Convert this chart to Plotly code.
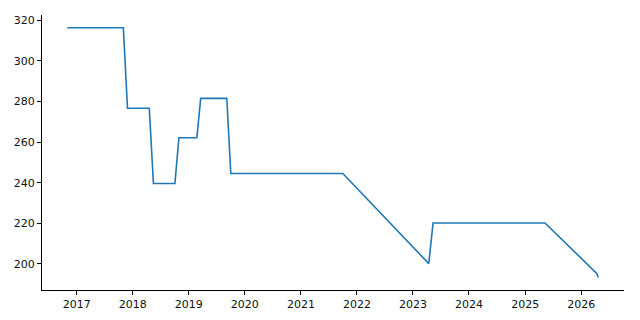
import plotly.graph_objects as go

dates = [
    "2016-11-01", "2017-11-01", "2017-11-28",
    "2018-04-19", "2018-05-16",
    "2018-10-03", "2018-10-29",
    "2019-02-23", "2019-03-20",
    "2019-09-06", "2019-10-02",
    "2021-10-01", "2023-04-14",
    "2023-05-12", "2025-05-10",
    "2026-04-12", "2026-04-22",
]
values = [
    316.2, 316.2, 276.6,
    276.6, 239.6,
    239.6, 262.1,
    262.1, 281.5,
    281.5, 244.5,
    244.5, 200.2,
    220.2, 220.2,
    195.4, 193.4,
]
y_ticks = [200, 220, 240, 260, 280, 300, 320]
x_ticks = ["2017-01-01", "2018-01-01", "2019-01-01", "2020-01-01", "2021-01-01",
           "2022-01-01", "2023-01-01", "2024-01-01", "2025-01-01", "2026-01-01"]
x_tick_labels = ["2017", "2018", "2019", "2020", "2021", "2022", "2023", "2024", "2025", "2026"]

fig = go.Figure()
fig.add_trace(go.Scatter(
    x=dates, y=values, mode="lines",
    line=dict(color="#1f77b4", width=1.6),
    hoverinfo="skip", showlegend=False,
))

axis_common = dict(
    showgrid=False, zeroline=False, automargin=False,
    showline=True, linecolor="black", linewidth=0.9,
    ticks="outside", ticklen=4, tickwidth=0.9, tickcolor="black",
    tickfont=dict(family="DejaVu Sans", size=11, color="#111"),
)

fig.update_layout(
    width=640, height=320,
    margin=dict(l=42, r=16, t=15, b=30),
    plot_bgcolor="white", paper_bgcolor="white",
    xaxis=dict(range=["2016-05-20", "2026-10-07"], tickvals=x_ticks,
               ticktext=x_tick_labels, **axis_common),
    yaxis=dict(range=[187.2, 322.5], tickvals=y_ticks, **axis_common),
)

fig.write_html("out.html")
